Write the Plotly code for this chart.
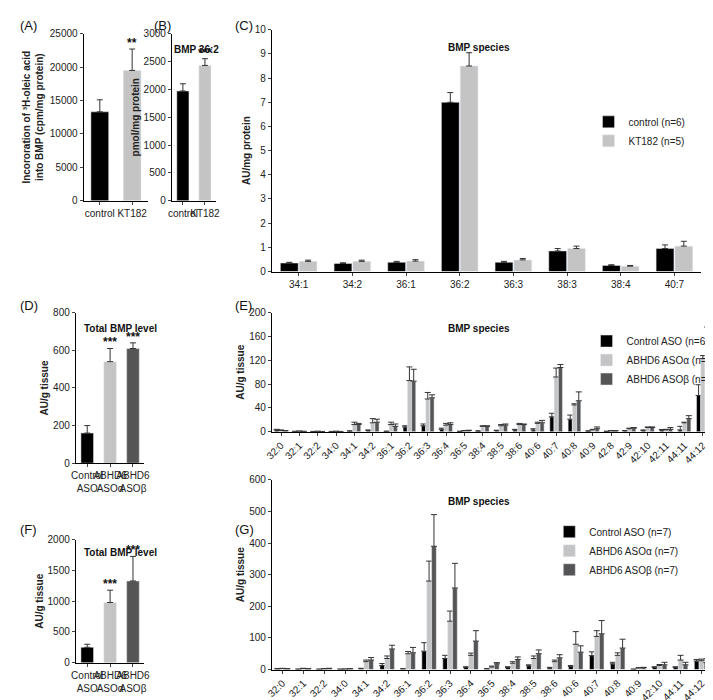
import plotly.graph_objects as go

W, H = 713, 700
BLACK, LIGHT, DARK = "#000000", "#c4c4c4", "#555555"

a_cats = ["control", "KT182"]; a_vals = [13300, 19500]; a_err = [1800, 3200]
b_cats = ["control", "KT182"]; b_vals = [1970, 2430]; b_err = [130, 120]
c_cats = ["34:1", "34:2", "36:1", "36:2", "36:3", "38:3", "38:4", "40:7"]
c_ctrl = [0.35, 0.33, 0.38, 7.0, 0.38, 0.85, 0.25, 0.95]
c_ctrl_err = [0.03, 0.03, 0.04, 0.4, 0.04, 0.1, 0.03, 0.15]
c_kt = [0.42, 0.42, 0.43, 8.5, 0.48, 0.95, 0.22, 1.05]
c_kt_err = [0.05, 0.05, 0.06, 0.55, 0.06, 0.1, 0.03, 0.2]

d_cats = ["Control<br>ASO", "ABHD6<br>ASOα", "ABHD6<br>ASOβ"]
d_vals = [160, 540, 610]; d_err = [40, 70, 30]
f_vals = [250, 980, 1330]; f_err = [50, 200, 400]

e_cats = ["32:0","32:1","32:2","34:0","34:1","34:2","36:1","36:2","36:3","36:4","36:5","38:4","38:5","38:6","40:6","40:7","40:8","40:9","42:8","42:9","42:10","42:11","44:11","44:12"]
e_ctrl = [3,0.5,0.3,0.3,1,2,0.5,8,10,4,0.5,1,2,3,3,25,21,1,0.5,1.5,2,3,3,61]
e_ctrl_err = [1,0.2,0.2,0.2,0.5,1,0.5,2,3,2,0.3,0.5,0.5,1,2,6,7,0.5,0.3,0.5,1,0.5,6,18]
e_a = [2,0.8,0.5,0.5,12,15,12,86,55,11,1.5,9,10,12,14,92,45,3,1.5,5,7,3,15,123]
e_a_err = [1,0.3,0.3,0.3,4,7,4,23,11,3,0.5,1,2,2,2,15,2,1,0.3,1,1,1,1,5]
e_b = [1.5,0.5,0.3,0.3,12,16,9,85,57,12,2,9,11,12,15,108,52,5,1.5,6,7,4,22,148]
e_b_err = [0.5,0.2,0.2,0.2,2,5,4,20,5,3,0.5,1,2,1,4,5,15,3,0.3,1,1,3,5,28]

g_cats = ["32:0","32:1","32:2","34:0","34:1","34:2","36:1","36:2","36:3","36:4","36:5","38:4","38:5","38:6","40:6","40:7","40:8","40:9","42:10","44:11","44:12"]
g_ctrl = [2,1,1,1,3,13,2,58,35,7,2,7,12,5,10,44,18,1,7,7,27]
g_ctrl_err = [1,0.5,0.5,0.5,1,6,1,27,10,2,1,2,3,2,3,12,5,0.5,2,2,5]
g_a = [3,3,2,1,25,35,50,280,153,45,8,20,35,25,80,105,45,5,13,30,28]
g_a_err = [1,1,1,1,5,8,7,63,32,7,3,5,8,5,40,18,8,1,3,15,5]
g_b = [2,2,3,2,30,65,53,390,258,90,18,32,50,37,55,113,68,6,15,15,22]
g_b_err = [1,1,1,1,8,12,17,100,78,33,4,8,12,10,20,42,28,1,8,8,12]

fig = go.Figure()

def err(e, c="#333"):
    return dict(type="data", symmetric=False, array=e, arrayminus=[0]*len(e),
                color=c, thickness=1, width=3)

def px_x(a, b): return [a / W, b / W]
def px_y(top, bot): return [1 - bot / H, 1 - top / H]

fig.add_bar(x=a_cats, y=a_vals, error_y=err(a_err), marker_color=[BLACK, LIGHT],
            width=0.55, xaxis="x", yaxis="y", showlegend=False)
fig.add_bar(x=b_cats, y=b_vals, error_y=err(b_err), marker_color=[BLACK, LIGHT],
            width=0.55, xaxis="x2", yaxis="y2", showlegend=False)
fig.add_bar(x=c_cats, y=c_ctrl, error_y=err(c_ctrl_err), marker_color=BLACK,
            name="control (n=6)", xaxis="x3", yaxis="y3", legend="legend")
fig.add_bar(x=c_cats, y=c_kt, error_y=err(c_kt_err), marker_color=LIGHT,
            name="KT182 (n=5)", xaxis="x3", yaxis="y3", legend="legend")
fig.add_bar(x=d_cats, y=d_vals, error_y=err(d_err), marker_color=[BLACK, LIGHT, DARK],
            width=0.55, xaxis="x4", yaxis="y4", showlegend=False)
for vals, e, col, nm in [(e_ctrl, e_ctrl_err, BLACK, "Control ASO (n=6)"),
                         (e_a, e_a_err, LIGHT, "ABHD6 ASOα (n=3)"),
                         (e_b, e_b_err, DARK, "ABHD6 ASOβ (n=5)")]:
    fig.add_bar(x=e_cats, y=vals, error_y=err(e), marker_color=col, name=nm,
                xaxis="x5", yaxis="y5", legend="legend2")
fig.add_bar(x=d_cats, y=f_vals, error_y=err(f_err), marker_color=[BLACK, LIGHT, DARK],
            width=0.55, xaxis="x6", yaxis="y6", showlegend=False)
for vals, e, col, nm in [(g_ctrl, g_ctrl_err, BLACK, "Control ASO (n=7)"),
                         (g_a, g_a_err, LIGHT, "ABHD6 ASOα (n=7)"),
                         (g_b, g_b_err, DARK, "ABHD6 ASOβ (n=7)")]:
    fig.add_bar(x=g_cats, y=vals, error_y=err(e), marker_color=col, name=nm,
                xaxis="x7", yaxis="y7", legend="legend3")

ax = dict(showline=True, linecolor="black", linewidth=1, ticks="outside", ticklen=3,
          showgrid=False, zeroline=False, tickfont=dict(size=10, color="#222"),
          tickformat="d")
axc = dict(ax, tickangle=0, tickfont=dict(size=10, color="#222"))
tfont = dict(size=10, color="#222", family="Arial")
leg = dict(xanchor="left", yanchor="top", font=dict(size=10),
           bgcolor="rgba(0,0,0,0)", itemwidth=30)

fig.update_layout(
    width=W, height=H, margin=dict(l=0, r=0, t=0, b=0),
    paper_bgcolor="white", plot_bgcolor="white", barmode="group",
    bargap=0.3, bargroupgap=0.05, font=dict(family="Arial", color="#222"),
    xaxis=dict(axc, domain=px_x(70, 136), anchor="y"),
    yaxis=dict(ax, domain=px_y(20, 190), range=[0, 25000], dtick=5000, anchor="x",
               title=dict(text="<b>Incororation of ³H-oleic acid<br>into BMP (cpm/mg protein)</b>", font=tfont, standoff=4)),
    xaxis2=dict(axc, domain=px_x(160, 205), anchor="y2"),
    yaxis2=dict(ax, domain=px_y(20, 190), range=[0, 3000], dtick=500, anchor="x2",
                title=dict(text="<b>pmol/mg protein</b>", font=tfont, standoff=2)),
    xaxis3=dict(axc, domain=px_x(262, 700), anchor="y3"),
    yaxis3=dict(ax, domain=px_y(16, 262), range=[0, 10], dtick=1, anchor="x3",
                title=dict(text="<b>AU/mg protein</b>", font=tfont, standoff=2)),
    xaxis4=dict(axc, domain=px_x(62, 132), anchor="y4"),
    yaxis4=dict(ax, domain=px_y(304, 457), range=[0, 800], dtick=200, anchor="x4",
                title=dict(text="<b>AU/g tissue</b>", font=tfont, standoff=2)),
    xaxis5=dict(ax, domain=px_x(262, 711), anchor="y5", tickangle=-45),
    yaxis5=dict(ax, domain=px_y(304, 425), range=[0, 200], dtick=40, anchor="x5",
                title=dict(text="<b>AU/g tissue</b>", font=tfont, standoff=2)),
    xaxis6=dict(axc, domain=px_x(62, 132), anchor="y6"),
    yaxis6=dict(ax, domain=px_y(535, 660), range=[0, 2000], dtick=500, anchor="x6",
                title=dict(text="<b>AU/g tissue</b>", font=tfont, standoff=2)),
    xaxis7=dict(ax, domain=px_x(262, 711), anchor="y7", tickangle=-45),
    yaxis7=dict(ax, domain=px_y(474, 667), range=[0, 600], dtick=100, anchor="x7",
                title=dict(text="<b>AU/g tissue</b>", font=tfont, standoff=2)),
    legend=dict(leg, x=585/W, y=1-95/H, tracegroupgap=12),
    legend2=dict(leg, x=583/W, y=1-318/H),
    legend3=dict(leg, x=545/W, y=1-512/H),
)

ann = [
    ("(A)", 3, 2, 13), ("(B)", 140, 2, 13), ("(C)", 222, 2, 13),
    ("(D)", 3, 287, 13), ("(E)", 222, 287, 13),
    ("(F)", 3, 515, 13), ("(G)", 222, 515, 13),
    ("<b>BMP 36:2</b>", 160, 28, 10), ("<b>BMP species</b>", 440, 26, 10),
    ("<b>Total BMP level</b>", 68, 312, 10), ("<b>BMP species</b>", 440, 312, 10),
    ("<b>Total BMP level</b>", 68, 540, 10), ("<b>BMP species</b>", 440, 488, 10),
]
for t, x, y, s in ann:
    fig.add_annotation(text=t, x=x/W, y=1-y/H, xref="paper", yref="paper",
                       xanchor="left", yanchor="top", showarrow=False,
                       font=dict(size=s, color="#111"))

stars = [("x", "y", "KT182", 22700, "**"), ("x2", "y2", "KT182", 2550, "***"),
         ("x4", "y4", d_cats[1], 610, "***"), ("x4", "y4", d_cats[2], 640, "***"),
         ("x6", "y6", d_cats[1], 1180, "***"), ("x6", "y6", d_cats[2], 1730, "***")]
for xr, yr, xv, yv, t in stars:
    fig.add_annotation(text=f"<b>{t}</b>", x=xv, y=yv, xref=xr, yref=yr, yanchor="bottom",
                       showarrow=False, font=dict(size=12, color="#111"), yshift=-3)

fig.write_html("out.html")
